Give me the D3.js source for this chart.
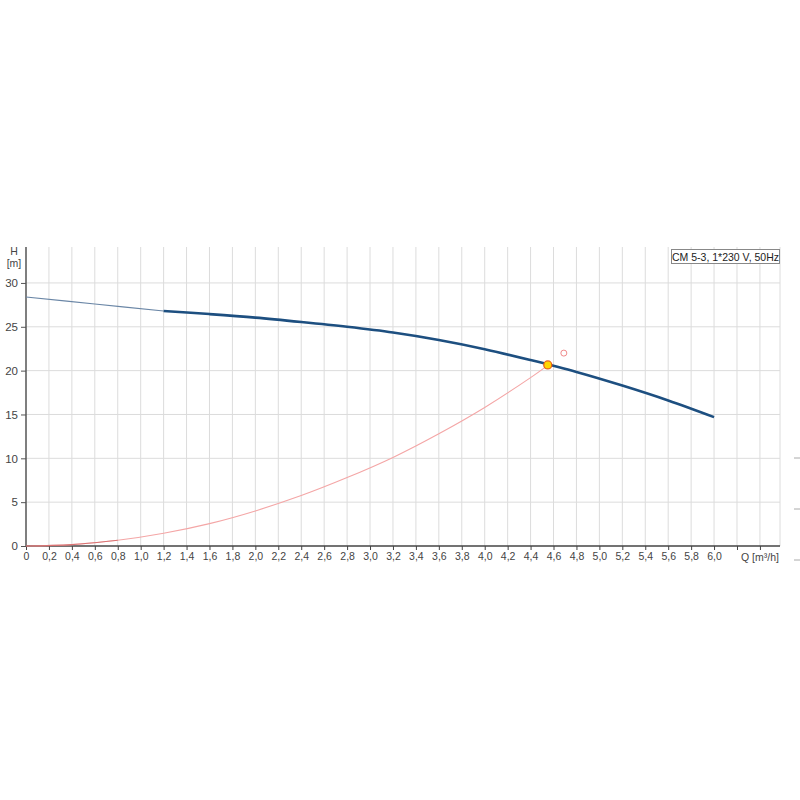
<!DOCTYPE html>
<html>
<head>
<meta charset="utf-8">
<script src="https://cdn.jsdelivr.net/npm/d3@7"></script>
<style>
  body { margin: 0; background: #fff; }
  svg { display: block; font-family: "Liberation Sans", Arial, sans-serif; }
</style>
</head>
<body>
<svg width="800" height="800"></svg>
<script>
// pump curve, thin extrapolated part at low flow
var pumpLowQ = [0, 0.6, 1.2];
var pumpLowH = [28.4, 27.6, 26.8];
// pump curve, main part
var pumpQ = [1.2, 1.6, 2.0, 2.4, 2.8, 3.2, 3.6, 4.0, 4.4, 4.8, 5.2, 5.6, 6.0];
var pumpH = [26.8, 26.45, 26.05, 25.55, 25.0, 24.35, 23.5, 22.45, 21.2, 19.85, 18.3, 16.6, 14.7];
// system curve
var sysQ = [0, 0.4, 0.8, 1.2, 1.6, 2.0, 2.4, 2.8, 3.2, 3.6, 4.0, 4.4, 4.55];
var sysH = [0, 0.16, 0.65, 1.45, 2.55, 4.0, 5.75, 7.8, 10.1, 12.8, 15.8, 19.2, 20.6];
var dutyPoint = [4.55, 20.65];
var requiredPoint = [4.69, 22.0];
var yTicks = [0, 5, 10, 15, 20, 25, 30];
var xTicks = d3.range(0, 33).map(function(i) { return i / 5; });
var xLabelMax = 6.0;
var title = "CM 5-3, 1*230 V, 50Hz";

var svg = d3.select("svg");
var pLeft = 26, pRight = 780, pTop = 247, pBottom = 546;

var x = d3.scaleLinear().domain([0, 6.575]).range([pLeft, pRight]);
var y = d3.scaleLinear().domain([0, 34.1]).range([pBottom, pTop]);

function zip(a, b) { return a.map(function(v, i) { return [v, b[i]]; }); }

// grid
var grid = svg.append("g");
grid.selectAll(".vg").data(xTicks.filter(function(d) { return d > 0; }))
  .enter().append("line")
  .attr("x1", function(d) { return x(d); }).attr("x2", function(d) { return x(d); })
  .attr("y1", pTop).attr("y2", pBottom)
  .attr("stroke", "#dcdcdc").attr("stroke-width", 1);
grid.append("line")
  .attr("x1", pRight).attr("x2", pRight).attr("y1", pTop).attr("y2", pBottom)
  .attr("stroke", "#dcdcdc");
grid.selectAll(".hg").data(yTicks.filter(function(d) { return d > 0; }))
  .enter().append("line")
  .attr("x1", pLeft).attr("x2", pRight)
  .attr("y1", function(d) { return y(d); }).attr("y2", function(d) { return y(d); })
  .attr("stroke", "#dcdcdc").attr("stroke-width", 1);

// axes
var xAxis = d3.axisBottom(x).tickValues(xTicks).tickSize(4).tickPadding(3)
  .tickFormat(function(d) {
    if (d > xLabelMax + 1e-9) return "";
    return d === 0 ? "0" : d3.format(".1f")(d).replace(".", ",");
  });
var gx = svg.append("g").attr("transform", "translate(0," + pBottom + ")").call(xAxis);
gx.select(".domain").attr("d", "M" + pLeft + ",0H" + pRight).attr("stroke", "#444").attr("stroke-width", 1.5);
gx.selectAll(".tick line").attr("stroke", "#444");
gx.selectAll("text").attr("fill", "#444").style("font-size", "10.5px");

var yAxis = d3.axisLeft(y).tickValues(yTicks).tickSize(5).tickPadding(3);
var gy = svg.append("g").attr("transform", "translate(" + pLeft + ",0)").call(yAxis);
gy.select(".domain").attr("d", "M0," + pTop + "V" + pBottom).attr("stroke", "#555").attr("stroke-width", 1.5);
gy.selectAll(".tick line").attr("stroke", "#555");
gy.selectAll("text").attr("fill", "#444").style("font-size", "11.5px");

svg.append("text").attr("x", 14).attr("y", 255).attr("text-anchor", "middle")
  .style("font-size", "10.5px").attr("fill", "#444").text("H");
svg.append("text").attr("x", 14).attr("y", 267).attr("text-anchor", "middle")
  .style("font-size", "10.5px").attr("fill", "#444").text("[m]");
svg.append("text").attr("x", 760).attr("y", 561).attr("text-anchor", "middle")
  .style("font-size", "10.5px").attr("fill", "#444").text("Q [m³/h]");

// small marks at right edge
svg.selectAll(".edge").data([458, 509, 560]).enter().append("line")
  .attr("x1", 794).attr("x2", 800).attr("y1", function(d) { return d; }).attr("y2", function(d) { return d; })
  .attr("stroke", "#aaa");

// curves
var line = d3.line().x(function(d) { return x(d[0]); }).y(function(d) { return y(d[1]); })
  .curve(d3.curveCatmullRom);

svg.append("path").datum(zip(sysQ, sysH)).attr("d", line)
  .attr("fill", "none").attr("stroke", "#f4a6a6").attr("stroke-width", 1.1);
svg.append("path").datum(zip(sysQ.slice(0, 3), sysH.slice(0, 3))).attr("d", line)
  .attr("fill", "none").attr("stroke", "#c85050").attr("stroke-width", 1.1).attr("opacity", 0.6);

svg.append("path").datum(zip(pumpLowQ, pumpLowH)).attr("d", line)
  .attr("fill", "none").attr("stroke", "#6a86a6").attr("stroke-width", 1.2);
svg.append("path").datum(zip(pumpQ, pumpH)).attr("d", line)
  .attr("fill", "none").attr("stroke", "#1d4f80").attr("stroke-width", 2.6);

svg.append("circle").attr("cx", x(requiredPoint[0])).attr("cy", y(requiredPoint[1])).attr("r", 3)
  .attr("fill", "none").attr("stroke", "#f08a8a").attr("stroke-width", 1);
svg.append("circle").attr("cx", x(dutyPoint[0])).attr("cy", y(dutyPoint[1])).attr("r", 4)
  .attr("fill", "#ffd700").attr("stroke", "#e8611a").attr("stroke-width", 1.3);

// title box
var tb = svg.append("g");
tb.append("rect").attr("x", 671.5).attr("y", 249.5).attr("width", 108).attr("height", 14)
  .attr("fill", "#fff").attr("stroke", "#888");
tb.append("text").attr("x", 725.5).attr("y", 260.5).attr("text-anchor", "middle")
  .style("font-size", "10.5px").attr("fill", "#222").text(title);
</script>
</body>
</html>
